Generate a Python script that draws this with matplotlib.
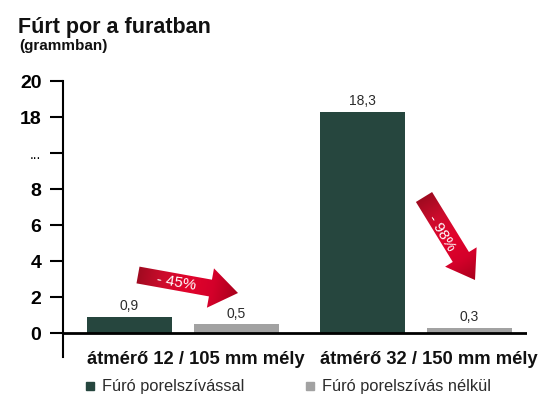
import numpy as np
import matplotlib
matplotlib.use("Agg")
import matplotlib.pyplot as plt
from matplotlib.colors import LinearSegmentedColormap
from matplotlib.lines import Line2D
from matplotlib.patches import Polygon
from matplotlib.transforms import blended_transform_factory

plt.rcParams['font.family'] = ['Liberation Sans', 'DejaVu Sans']

groups = ['átmérő 12 / 105 mm mély', 'átmérő 32 / 150 mm mély']
series = ['Fúró porelszívással', 'Fúró porelszívás nélkül']
with_extraction = [0.9, 18.3]
without_extraction = [0.5, 0.3]
labels_with = ['0,9', '18,3']
labels_without = ['0,5', '0,3']
reductions = ['- 45%', '- 98%']
yticks = [0, 2, 4, 6, 8, 13, 18, 20]
yticklabels = ['0', '2', '4', '6', '8', '...', '18', '20']

GREEN = '#26463e'
GREY = '#a2a2a2'
TEXT = '#2b2b2b'


# broken y axis: 0-8 linear, 8-18 squeezed, 18-20 linear again
def fwd(v):
    v = np.asarray(v, dtype=float)
    return np.where(v <= 8, v, np.where(v <= 18, 8 + (v - 8) * 0.4, v - 6))


def inv(u):
    u = np.asarray(u, dtype=float)
    return np.where(u <= 8, u, np.where(u <= 12, 8 + (u - 8) / 0.4, u + 6))


def arrow_verts(x0, y0, x1, y1, shaft, head_w, head_l):
    p0 = np.array([x0, y0], float)
    p1 = np.array([x1, y1], float)
    d = p1 - p0
    L = np.hypot(*d)
    u = d / L
    n = np.array([-u[1], u[0]])
    base = p0 + u * (L - head_l)
    return np.array([p0 + n * shaft / 2, base + n * shaft / 2, base + n * head_w / 2,
                     p1, base - n * head_w / 2, base - n * shaft / 2, p0 - n * shaft / 2])


def red_arrow(ax, x0, y0, x1, y1, shaft, head_w, head_l, label, rot, tx, ty):
    verts = arrow_verts(x0, y0, x1, y1, shaft, head_w, head_l)
    patch = Polygon(verts, closed=True, fc='none', ec='none')
    ax.add_patch(patch)
    xmin, ymin = verts.min(axis=0) - 2
    xmax, ymax = verts.max(axis=0) + 2
    xs = np.linspace(xmin, xmax, 200)
    ys = np.linspace(ymin, ymax, 200)
    X, Y = np.meshgrid(xs, ys)
    d = np.array([x1 - x0, y1 - y0])
    d = d / np.hypot(*d)
    t = ((X - x0) * d[0] + (Y - y0) * d[1]) / np.hypot(x1 - x0, y1 - y0)
    cmap = LinearSegmentedColormap.from_list(
        'redgrad', ['#a00a20', '#cc0c2c', '#e2042c', '#d4002a', '#a8001c'])
    im = ax.imshow(t, extent=[xmin, xmax, ymax, ymin], cmap=cmap, vmin=0, vmax=1,
                   interpolation='bilinear', aspect='auto', zorder=5)
    im.set_clip_path(patch)
    ax.text(tx, ty, label, color='white', fontsize=11, rotation=rot,
            rotation_mode='anchor', ha='center', va='center', zorder=6)


fig = plt.figure(figsize=(5.45, 4.03), dpi=100)
ax = fig.add_axes([63 / 545, 46 / 403, 464 / 545, 276 / 403])
ax.set_yscale('function', functions=(fwd, inv))

x = np.arange(len(groups))
off, w = 0.2296, 0.365
b1 = ax.bar(x - off, with_extraction, w, color=GREEN, zorder=2)
b2 = ax.bar(x + off, without_extraction, w, color=GREY, zorder=2)

for bars, labels in ((b1, labels_with), (b2, labels_without)):
    for rect, lab in zip(bars, labels):
        ax.annotate(lab, (rect.get_x() + rect.get_width() / 2, rect.get_height()),
                    xytext=(0, 2.5), textcoords='offset points', ha='center',
                    va='bottom', fontsize=10, color=TEXT)

ax.set_xlim(-0.515, 1.476)
ax.set_ylim(-1.333, 20)
ax.axhline(0, color='black', lw=2, zorder=3)

ax.set_yticks(yticks)
ax.set_yticklabels(yticklabels)
ax.minorticks_off()
ax.tick_params(axis='y', length=9.5, width=1.5, pad=6, labelsize=14)
for lab in ax.get_yticklabels():
    if lab.get_text() == '...':
        lab.set_fontsize(10)
        lab.set_fontweight('normal')
    else:
        lab.set_fontweight('bold')
ax.set_xticks([])
for side in ('top', 'right', 'bottom'):
    ax.spines[side].set_visible(False)
ax.spines['left'].set_linewidth(1.5)

# category names sit just under the zero line, over the axis stub
name_trans = blended_transform_factory(ax.transData, fig.transFigure)
for xi, g in zip(x, groups):
    ax.text(xi + 0.055, 1 - 359 / 403, g, transform=name_trans, ha='center',
            va='center', fontsize=13.2, fontweight='bold', color='#111111')

fig.text(18 / 545, 1 - 33 / 403, 'Fúrt por a furatban', fontsize=15.5,
         fontweight='bold', va='baseline', color='#111111')
fig.text(19 / 545, 1 - 50 / 403, '(grammban)', fontsize=11,
         fontweight='bold', va='baseline', color='#111111')

handles = [Line2D([], [], marker='s', ls='', color=c, markersize=6)
           for c in (GREEN, GREY)]
fig.legend(handles, series, loc='center left', bbox_to_anchor=(75 / 545, 1 - 387 / 403),
           ncol=2, frameon=False, fontsize=11.8, handlelength=0.8, handletextpad=0.35,
           columnspacing=3.6, borderpad=0, labelcolor=TEXT)

# overlay in pixel units for the reduction arrows
oax = fig.add_axes([0, 0, 1, 1], zorder=5)
oax.set_xlim(0, 545)
oax.set_ylim(403, 0)
oax.axis('off')
red_arrow(oax, 138, 275, 238, 293, 17, 40, 28, reductions[0], -10, 176, 283)
red_arrow(oax, 424, 197, 475, 280, 19, 37, 27, reductions[1], -59, 442, 233)

fig.savefig('out.png', dpi=100)
